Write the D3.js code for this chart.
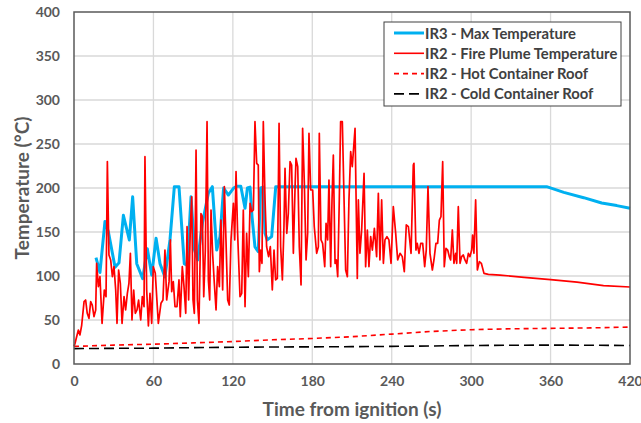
<!DOCTYPE html>
<html lang="en">
<head>
<meta charset="UTF-8">
<script src="https://d3js.org/d3.v7.min.js"></script>
<style>
  body { margin: 0; background: #fff; }
  svg { display: block; }
</style>
</head>
<body>
<div id="chart"></div>
<script>
// IR3 max temperature
const maxTime = [16.6, 19.6, 23.4, 26, 31, 34, 37.3, 41.8, 44.3, 47.4, 51.9, 55.4, 58.7, 62, 65, 68.7, 72.5, 75.8, 79.3, 83.3, 85.5, 88.4, 91, 93.4, 97, 101.5, 104.5, 107.8, 110.3, 113, 116.6, 120.4, 122.9, 126, 129.2, 131, 133, 134.5, 136.7, 139.2, 141, 143, 144.3, 146, 149.3, 152.4, 357, 370, 385, 398.6, 410, 420];
const maxTemp = [121, 104, 162, 150, 110, 115, 169, 141, 190, 114, 97, 131, 101, 143, 114, 99, 141, 201.5, 201.5, 114, 112, 190, 130, 118, 160, 194, 201.5, 129.5, 144.7, 200, 192, 199.6, 202, 202, 177, 200, 201, 167, 133, 127.6, 200, 201, 148.5, 141, 144.7, 201.5, 201.5, 195, 189, 183, 180, 177];

// IR2 fire plume temperature
const plumeTime = [0, 0.8, 2, 3.3, 4.5, 5.8, 7.6, 8.8, 10, 11.3, 12.6, 13.8, 15.1, 16.4, 17.1, 18.4, 19.6, 21.2, 22.9, 24.2, 25.2, 26.4, 27.7, 29, 30.2, 31.5, 32.5, 33.7, 35, 36.3, 37.8, 39, 40.3, 41.5, 42.6, 43.8, 45.1, 46.3, 47.6, 48.8, 50.4, 51.6, 52.9, 53.6, 54.9, 56.2, 57.4, 58.7, 59.9, 61.4, 63.7, 65.7, 67.2, 68.7, 70, 71.8, 72.8, 73.8, 75, 76.3, 77.8, 79.3, 80.3, 81.8, 83.1, 84.4, 85.4, 86.6, 87.9, 88.9, 89.9, 90.9, 92.2, 93.2, 94.4, 95.9, 97, 98, 99.2, 100.5, 101.5, 102.5, 103.5, 104.7, 106, 107.3, 108.5, 109.8, 111, 112.3, 113.6, 114.8, 116.1, 117.3, 118.6, 120.4, 121.4, 122.4, 123.6, 125.4, 126.7, 127.9, 129.2, 130.4, 131.7, 133, 134.2, 135.5, 136.7, 138, 139.2, 140, 141, 142, 143, 144.3, 145.5, 147, 148.3, 149.8, 151.1, 152.3, 153.6, 154.9, 156.1, 157.4, 158.6, 159.4, 160.7, 161.9, 163.2, 164.4, 165.7, 167, 167.7, 169, 170.2, 171.5, 172.7, 174, 175.3, 176.5, 177.5, 178.8, 180.3, 181.5, 183.3, 184.6, 185.3, 186.6, 187.8, 189.4, 190.4, 191.6, 192.6, 193.9, 194.9, 195.9, 197.2, 198.2, 199.2, 200.4, 201.4, 202.7, 204, 205.2, 206.5, 207.7, 209, 210.2, 212.3, 214, 214.8, 216, 217.3, 219.1, 220.3, 221.6, 222.8, 224.1, 225.4, 226.9, 228.6, 229.9, 231.1, 232.4, 233.7, 234.9, 236.4, 237.9, 239.5, 241.2, 243, 244.5, 246.3, 248, 249.5, 251, 252.6, 254.6, 256.3, 256.8, 258.3, 259.3, 260.6, 261.9, 263.4, 264.9, 266.1, 267.4, 268.9, 270.7, 271.9, 273.4, 274.7, 276, 277.2, 278.5, 279.7, 281, 282.3, 283.5, 284.5, 285.8, 287, 288.3, 289.1, 290.3, 291.6, 292.8, 294.1, 295.3, 296.6, 297.9, 299.1, 300.4, 301.1, 302.1, 303.4, 304.7, 306.2, 307.7, 309.7, 313, 321.8, 340, 360, 380, 400, 420];
const plumeTemp = [20, 23.5, 31, 38.6, 33, 44, 70.8, 72.7, 57.6, 51.9, 70.8, 67, 53.8, 61.4, 114.4, 87.9, 99.3, 46.2, 84.1, 76.5, 230, 123.9, 118.2, 99.3, 110.6, 84.1, 46.2, 106.8, 91.7, 46.2, 76.5, 61.4, 80.3, 91.7, 125.8, 50, 84.1, 57.6, 61.4, 72.7, 50, 76.5, 65.2, 235.6, 84.1, 43.2, 80.3, 46.2, 110.6, 103, 46.2, 69, 72.7, 129.5, 72.7, 93.6, 141, 82.2, 93.6, 65.1, 65.1, 95.5, 53.8, 110.6, 87.9, 57.6, 156, 72.7, 156, 190, 72.7, 57.6, 243, 72.7, 46.2, 171, 167.4, 76.5, 129.5, 275.4, 95.5, 72.7, 175, 125.8, 91.7, 61.4, 110.6, 87.9, 163.6, 84.1, 201.5, 141, 72.7, 67, 141, 182.6, 141, 218.6, 148.5, 76.5, 80.3, 175, 65.1, 148.5, 99.2, 182.6, 173.1, 175, 275.4, 228, 226, 105, 129.5, 114.4, 275.4, 186.4, 133.3, 122, 133.3, 84.1, 129.5, 95.5, 97.3, 273.5, 133.3, 95.5, 156, 222.3, 148.5, 171.2, 229.9, 226, 125.8, 201.5, 233.7, 224.2, 133.3, 89.8, 267.8, 205.3, 118.2, 148.5, 262.1, 197.7, 197.7, 156, 125.8, 133.3, 262.1, 141, 137.1, 110.6, 159.8, 141, 209, 110.6, 186.4, 237.5, 114.4, 118.2, 99.2, 186.4, 275.4, 275.4, 186.4, 106.8, 99.2, 186.4, 241.3, 224.2, 267.8, 97.3, 186.4, 125.8, 152.3, 216.7, 110.6, 152.3, 110.6, 144.7, 129.5, 154.2, 122, 193.9, 118.2, 186.4, 114.4, 141, 144.7, 141, 114.4, 178.8, 148.5, 118.2, 125.8, 122, 105, 158, 156, 125.8, 226, 228, 129.5, 137.1, 125.8, 137.1, 137.1, 110.6, 129.5, 201.5, 125.8, 106.8, 118.2, 137.1, 137.1, 163.6, 167.4, 229.9, 110.6, 131.4, 129.5, 122, 118.2, 152.3, 114.4, 125.8, 114.4, 178.8, 114.4, 122, 123.9, 118.2, 114.4, 125.8, 122, 129.5, 146.6, 125.8, 186.4, 106.8, 116.3, 114.4, 103, 101.9, 101.1, 98.5, 95.8, 93, 89, 87.5];

// IR2 container roof
const roofTime = [0, 30, 60, 90, 120, 150, 180, 210, 240, 270, 300, 330, 360, 390, 420];
const hotRoof = [20, 21.5, 22.5, 24, 25.5, 27.5, 29, 31, 34, 37, 39, 40, 40.5, 41, 42];
const coldRoof = [17.5, 17.8, 18, 18.6, 19, 19.3, 19.5, 19.7, 20, 20.5, 21, 21.3, 21.5, 21.3, 21];

const xTicks = [0, 60, 120, 180, 240, 300, 360, 420];
const yTicks = [0, 50, 100, 150, 200, 250, 300, 350, 400];

const w = 641, h = 423;
const margin = { left: 74, right: 11, top: 12, bottom: 59 };

const svg = d3.select("#chart").append("svg")
  .attr("width", w)
  .attr("height", h);

const x = d3.scaleLinear().domain([0, 420]).range([margin.left, w - margin.right]);
const y = d3.scaleLinear().domain([0, 400]).range([h - margin.bottom, margin.top]);

// grid
svg.append("g").selectAll("line.gx")
  .data(xTicks.slice(1, -1))
  .enter().append("line")
  .attr("x1", d => x(d)).attr("x2", d => x(d))
  .attr("y1", y(0)).attr("y2", y(400))
  .attr("stroke", "#d9d9d9").attr("stroke-width", 1.3);

svg.append("g").selectAll("line.gy")
  .data(yTicks.slice(1, -1))
  .enter().append("line")
  .attr("x1", x(0)).attr("x2", x(420))
  .attr("y1", d => y(d)).attr("y2", d => y(d))
  .attr("stroke", "#d9d9d9").attr("stroke-width", 1.3);

const toPts = (ts, vs) => ts.map((t, i) => ({ t: t, v: vs[i] }));
const line = d3.line().x(d => x(d.t)).y(d => y(d.v));

svg.append("path").datum(toPts(roofTime, coldRoof))
  .attr("fill", "none").attr("stroke", "#000").attr("stroke-width", 1.6)
  .attr("stroke-dasharray", "10,5").attr("d", line);

svg.append("path").datum(toPts(roofTime, hotRoof))
  .attr("fill", "none").attr("stroke", "#ff0000").attr("stroke-width", 1.6)
  .attr("stroke-dasharray", "5,4").attr("d", line);

svg.append("path").datum(toPts(maxTime, maxTemp))
  .attr("fill", "none").attr("stroke", "#00b0f0").attr("stroke-width", 3)
  .attr("stroke-linejoin", "round").attr("d", line);

svg.append("path").datum(toPts(plumeTime, plumeTemp))
  .attr("fill", "none").attr("stroke", "#ff0000").attr("stroke-width", 1.7)
  .attr("stroke-linejoin", "round").attr("d", line);

// plot border
svg.append("rect")
  .attr("x", x(0)).attr("y", y(400))
  .attr("width", x(420) - x(0)).attr("height", y(0) - y(400))
  .attr("fill", "none").attr("stroke", "#595959").attr("stroke-width", 1.5);

// axes
const xAxis = d3.axisBottom(x).tickValues(xTicks).tickSize(0).tickPadding(12);
const gx = svg.append("g").attr("transform", `translate(0,${y(0)})`).call(xAxis);
const yAxis = d3.axisLeft(y).tickValues(yTicks).tickSize(0).tickPadding(14);
const gy = svg.append("g").attr("transform", `translate(${x(0)},0)`).call(yAxis);
[gx, gy].forEach(g => {
  g.select(".domain").remove();
  g.selectAll("text")
    .attr("font-family", "Lato, 'Open Sans', sans-serif")
    .attr("font-weight", "bold")
    .attr("font-size", "14px")
    .attr("fill", "#595959");
});

svg.append("text")
  .attr("x", (x(0) + x(420)) / 2)
  .attr("y", 416)
  .attr("text-anchor", "middle")
  .attr("font-family", "Lato, 'Open Sans', sans-serif")
  .attr("font-weight", "bold")
  .attr("font-size", "19px")
  .attr("fill", "#595959")
  .text("Time from ignition (s)");

svg.append("text")
  .attr("transform", `translate(29,${(y(0) + y(400)) / 2}) rotate(-90)`)
  .attr("text-anchor", "middle")
  .attr("font-family", "Lato, 'Open Sans', sans-serif")
  .attr("font-weight", "bold")
  .attr("font-size", "19px")
  .attr("fill", "#595959")
  .text("Temperature  (°C)");

// legend
const legendItems = [
  { label: "IR3 - Max Temperature", color: "#00b0f0", width: 3, dash: null },
  { label: "IR2 - Fire Plume Temperature", color: "#ff0000", width: 1.6, dash: null },
  { label: "IR2 - Hot Container Roof", color: "#ff0000", width: 1.6, dash: "5,4" },
  { label: "IR2 - Cold Container Roof", color: "#000", width: 1.6, dash: "10,5" }
];
const lg = svg.append("g");
lg.append("rect")
  .attr("x", 384).attr("y", 22).attr("width", 237).attr("height", 84)
  .attr("fill", "#fff").attr("stroke", "#404040").attr("stroke-width", 1);
legendItems.forEach((d, i) => {
  const ly = 33 + i * 20.3;
  lg.append("line")
    .attr("x1", 394).attr("x2", 424).attr("y1", ly).attr("y2", ly)
    .attr("stroke", d.color).attr("stroke-width", d.width)
    .attr("stroke-dasharray", d.dash);
  lg.append("text")
    .attr("x", 425).attr("y", ly + 5.5)
    .attr("font-family", "Lato, 'Open Sans', sans-serif")
    .attr("font-weight", "bold")
    .attr("font-size", "14.8px")
    .attr("fill", "#404040")
    .text(d.label);
});
</script>
</body>
</html>
